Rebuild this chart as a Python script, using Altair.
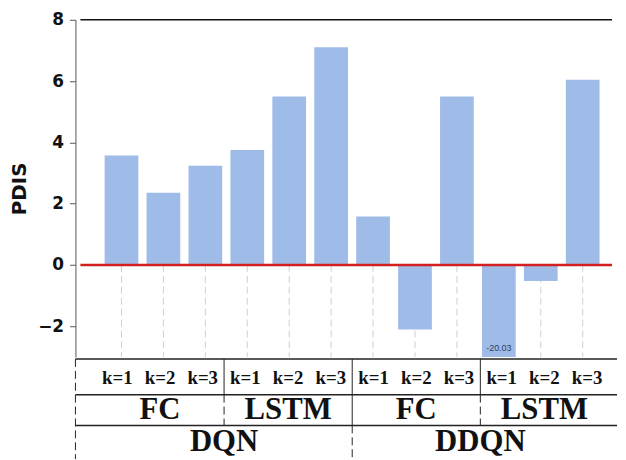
import altair as alt
import pandas as pd

# ---- data ----
algos = ["DQN"] * 6 + ["DDQN"] * 6
models = (["FC"] * 3 + ["LSTM"] * 3) * 2
ks = ["k=1", "k=2", "k=3"] * 4
pdis = [3.57, 2.36, 3.24, 3.75, 5.5, 7.1, 1.58, -2.1, 5.5, -20.03, -0.52, 6.04]
y_ticks = [-2, 0, 2, 4, 6, 8]

idx = list(range(len(pdis)))
df = pd.DataFrame({"idx": idx, "algo": algos, "model": models, "k": ks, "pdis": pdis})

XMIN, XMAX = -0.98, 11.70
YMIN, YMAX = -3, 8
W, H = 546, 340
BAR = "#9fbce9"

xs = alt.Scale(domain=[XMIN, XMAX], nice=False, zero=False)
ys = alt.Scale(domain=[YMIN, YMAX], nice=False)
YAX = alt.Axis(title="PDIS", values=y_ticks, grid=False, tickSize=6,
               tickColor="#555", domainColor="#555", labelPadding=6, titlePadding=8,
               labelFont="DejaVu Sans", labelFontWeight="bold", labelFontSize=17, labelColor="#111",
               titleFont="DejaVu Sans", titleFontWeight="bold", titleFontSize=20, titleColor="#111")

base = alt.Chart(df)

grid = base.transform_calculate(g0="0", g1=str(YMIN)).mark_rule(
    color="#cfcfcf", strokeDash=[7, 4], strokeWidth=1).encode(
    x=alt.X("idx:Q", scale=xs, axis=None),
    y=alt.Y("g0:Q", scale=ys, axis=YAX),
    y2="g1:Q",
)

bars = base.mark_bar(size=34, color=BAR, clip=True, orient="vertical").encode(
    x=alt.X("idx:Q", scale=xs, axis=None),
    y=alt.Y("pdis:Q", scale=ys, axis=YAX),
)

clip_label = base.transform_filter(f"datum.pdis < {YMIN}").transform_calculate(
    txt="toString(datum.pdis)", ly="-2.72"
).mark_text(fontSize=9, font="Liberation Sans", color="#2a3f5f", baseline="middle").encode(
    x=alt.X("idx:Q", scale=xs, axis=None),
    y=alt.Y("ly:Q", scale=ys, axis=YAX),
    text="txt:N",
)

def hline(v, color, width):
    d = pd.DataFrame({"v": [v], "xa": [XMIN], "xb": [XMAX]})
    return alt.Chart(d).mark_rule(color=color, strokeWidth=width).encode(
        x=alt.X("xa:Q", scale=xs, axis=None), x2="xb:Q",
        y=alt.Y("v:Q", scale=ys, axis=YAX),
    )

top_line = hline(YMAX, "#111", 1.5)
zero_line = hline(0, "#d21f1f", 2.5)

top = alt.layer(grid, bars, clip_label, top_line, zero_line).properties(width=W, height=H)

# ---- category table under the plot ----
TH = 101
ts = alt.Scale(domain=[0, TH], reverse=True, nice=False, zero=False)
row_k, row_m, row_a = 19, 52, 84
lines_y = [0, 36, 67]

k_df = pd.DataFrame({"pos": idx, "label": ks, "row": row_k})
m_df = df.groupby(["algo", "model"], sort=False)["idx"].mean().reset_index()
m_df = m_df.rename(columns={"idx": "pos", "model": "label"})
m_df["row"] = row_m
a_df = df.groupby("algo", sort=False)["idx"].mean().reset_index().rename(columns={"idx": "pos", "algo": "label"})
a_df["row"] = row_a

def txt(d, size):
    return alt.Chart(d).mark_text(font="Liberation Serif", fontWeight="bold", fontSize=size,
                                  color="#111", baseline="middle").encode(
        x=alt.X("pos:Q", scale=xs, axis=None),
        y=alt.Y("row:Q", scale=ts, axis=None),
        text="label:N",
    )

hl = alt.Chart(pd.DataFrame({"yy": lines_y, "xa": XMIN, "xb": XMAX})).mark_rule(
    color="#222", strokeWidth=1.5).encode(
    x=alt.X("xa:Q", scale=xs, axis=None), x2="xb:Q",
    y=alt.Y("yy:Q", scale=ts, axis=None),
)

seg_solid = pd.DataFrame({"x": [2.5, 5.5, 8.5, 5.5], "y1": [0, 0, 0, 36], "y2": [36, 36, 36, 67]})
seg_dash = pd.DataFrame({"x": [2.5, 8.5, 5.5, XMIN], "y1": [36, 36, 67, 0], "y2": [67, 67, TH, TH]})

vs = alt.Chart(seg_solid).mark_rule(color="#222", strokeWidth=1).encode(
    x=alt.X("x:Q", scale=xs, axis=None),
    y=alt.Y("y1:Q", scale=ts, axis=None), y2="y2:Q",
)
vd = alt.Chart(seg_dash).mark_rule(color="#222", strokeWidth=1, strokeDash=[8, 4]).encode(
    x=alt.X("x:Q", scale=xs, axis=None),
    y=alt.Y("y1:Q", scale=ts, axis=None), y2="y2:Q",
)

bottom = alt.layer(hl, vs, vd, txt(k_df, 19), txt(m_df, 31), txt(a_df, 31)).properties(width=W, height=TH)

chart = alt.vconcat(top, bottom, spacing=0).properties(
    padding={"left": 1, "top": 1, "right": 0, "bottom": 0}
).configure_view(stroke=None)

chart.save("out.html", embed_options={"renderer": "svg", "actions": False})
